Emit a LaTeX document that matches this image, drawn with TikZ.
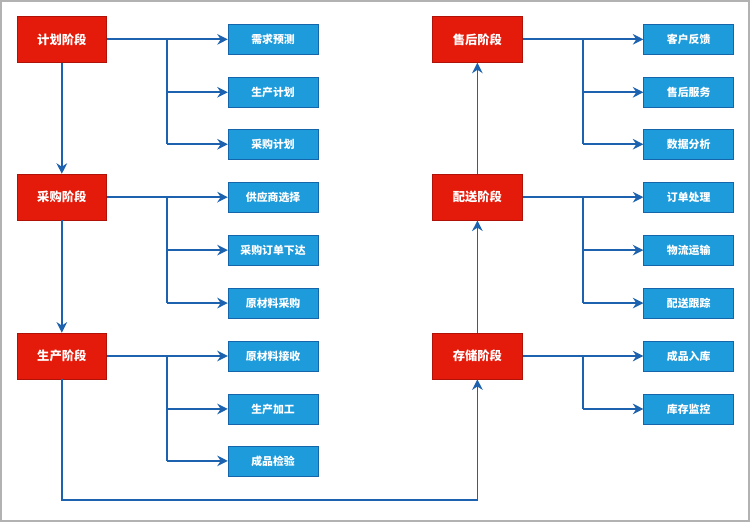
\documentclass[tikz,border=0pt]{standalone}
\usepackage{fontspec}
\setmainfont{Noto Sans CJK SC}
\usetikzlibrary{arrows.meta}
\definecolor{stagered}{HTML}{E41A0A}
\definecolor{stageedge}{HTML}{B01208}
\definecolor{taskblue}{HTML}{1E9BDB}
\definecolor{taskedge}{HTML}{1565AA}
\definecolor{linkblue}{HTML}{1C62AE}

\begin{document}
\begin{tikzpicture}[x=0.02cm,y=-0.02cm,
	stage/.style={draw=stageedge,fill=stagered,text=white,font=\fontsize{7pt}{8pt}\bfseries,
		minimum width=1.8cm,minimum height=0.92cm,inner sep=0pt},
	task/.style={draw=taskedge,fill=taskblue,text=white,font=\fontsize{6.2pt}{7pt}\bfseries,
		minimum width=1.8cm,minimum height=0.6cm,inner sep=0pt},
	link/.style={draw=linkblue,line width=1pt,-{Stealth[length=6pt,width=6pt]}},
	trunk/.style={draw=linkblue,line width=1pt}]
			\draw[gray!60,line width=1pt,fill=white]
			(0.5,0.5) rectangle (749.5,521.5);
			\useasboundingbox (0,0) rectangle (750,522);
			% stages
			\node[stage] (plan) at (61.5,39) {计划阶段};
			\node[stage] (buy) at (61.5,197) {采购阶段};
			\node[stage] (make) at (61.5,356) {生产阶段};
			\node[stage] (store) at (477.5,356) {存储阶段};
			\node[stage] (ship) at (477.5,197) {配送阶段};
			\node[stage] (after) at (477.5,39) {售后阶段};
			% tasks
			\node[task] (p1) at (273,39) {需求预测};
			\node[task] (p2) at (273,92) {生产计划};
			\node[task] (p3) at (273,144) {采购计划};
			\node[task] (b1) at (273,197) {供应商选择};
			\node[task] (b2) at (273,250) {采购订单下达};
			\node[task] (b3) at (273,303) {原材料采购};
			\node[task] (m1) at (273,356) {原材料接收};
			\node[task] (m2) at (273,409) {生产加工};
			\node[task] (m3) at (273,461) {成品检验};
			\node[task] (s1) at (689,356) {成品入库};
			\node[task] (s2) at (689,409) {库存监控};
			\node[task] (d1) at (689,197) {订单处理};
			\node[task] (d2) at (689,250) {物流运输};
			\node[task] (d3) at (689,303) {配送跟踪};
			\node[task] (a1) at (689,39) {客户反馈};
			\node[task] (a2) at (689,92) {售后服务};
			\node[task] (a3) at (689,144) {数据分析};
			% branch points
			\coordinate (jp) at (167,39);
			\coordinate (jb) at (167,197);
			\coordinate (jm) at (167,356);
			\coordinate (js) at (583,356);
			\coordinate (jd) at (583,197);
			\coordinate (ja) at (583,39);
			\coordinate (low) at (61.5,500);
			% stage to stage
			\draw[link] (plan) -- (buy);
			\draw[link] (buy) -- (make);
			\draw[link] (make) -- (low) -| (store);
			\draw[link] (store) -- (ship);
			\draw[link] (ship) -- (after);
			% stage to tasks
			\draw[link] (plan) -- (p1);
			\draw[trunk] (jp) -- (jp |- p3);
			\draw[link] (jp |- p2) -- (p2);
			\draw[link] (jp |- p3) -- (p3);
			\draw[link] (buy) -- (b1);
			\draw[trunk] (jb) -- (jb |- b3);
			\draw[link] (jb |- b2) -- (b2);
			\draw[link] (jb |- b3) -- (b3);
			\draw[link] (make) -- (m1);
			\draw[trunk] (jm) -- (jm |- m3);
			\draw[link] (jm |- m2) -- (m2);
			\draw[link] (jm |- m3) -- (m3);
			\draw[link] (store) -- (s1);
			\draw[trunk] (js) -- (js |- s2);
			\draw[link] (js |- s2) -- (s2);
			\draw[link] (ship) -- (d1);
			\draw[trunk] (jd) -- (jd |- d3);
			\draw[link] (jd |- d2) -- (d2);
			\draw[link] (jd |- d3) -- (d3);
			\draw[link] (after) -- (a1);
			\draw[trunk] (ja) -- (ja |- a3);
			\draw[link] (ja |- a2) -- (a2);
			\draw[link] (ja |- a3) -- (a3);
\end{tikzpicture}
\end{document}
